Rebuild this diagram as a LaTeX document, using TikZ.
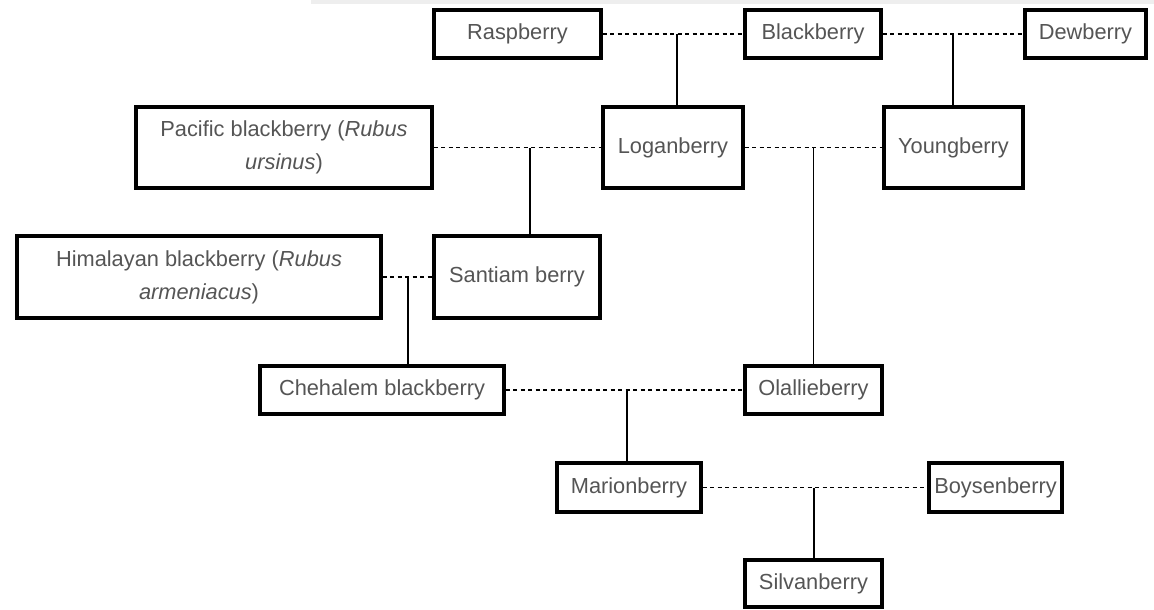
\documentclass[tikz,border=0pt]{standalone}
\usepackage{fontspec}
\setmainfont{Liberation Sans}
\definecolor{txt}{HTML}{555555}
\definecolor{barc}{HTML}{EEEEEE}
\begin{document}
\begin{tikzpicture}[x=1pt,y=-1pt,
  berry/.style={draw=black,line width=3.2pt,fill=white,inner sep=0pt,
    text=txt,align=center,font=\fontsize{21.8pt}{33pt}\selectfont},
  mate/.style={line width=1.7pt,dash pattern=on 4pt off 3.5pt},
  child/.style={line width=1.7pt}]
\useasboundingbox (0,0) rectangle (1154,610);
\fill[barc] (311,0) rectangle (1154,4.5);
% nodes
\node[berry,minimum width=167pt,minimum height=48pt] (rasp) at (517.5,34) {Raspberry};
\node[berry,minimum width=136pt,minimum height=48pt] (black) at (813,34) {Blackberry};
\node[berry,minimum width=121pt,minimum height=48pt] (dew) at (1085.5,34) {Dewberry};
\node[berry,minimum width=296pt,minimum height=81pt] (pac) at (284,147.5) {Pacific blackberry (\textit{Rubus}\\\textit{ursinus})};
\node[berry,minimum width=140pt,minimum height=81pt] (logan) at (673,147.5) {Loganberry};
\node[berry,minimum width=139pt,minimum height=81pt] (young) at (953.5,147.5) {Youngberry};
\node[berry,minimum width=364pt,minimum height=82pt] (hima) at (199,277) {Himalayan blackberry (\textit{Rubus}\\\textit{armeniacus})};
\node[berry,minimum width=166pt,minimum height=82pt] (sant) at (517,277) {Santiam berry};
\node[berry,minimum width=244pt,minimum height=48pt] (cheh) at (382,390) {Chehalem blackberry};
\node[berry,minimum width=137pt,minimum height=48pt] (olal) at (813.5,390) {Olallieberry};
\node[berry,minimum width=144pt,minimum height=49pt] (mari) at (629,487.5) {Marionberry};
\node[berry,minimum width=133pt,minimum height=49pt] (boys) at (995.5,487.5) {Boysenberry};
\node[berry,minimum width=137pt,minimum height=47pt] (silv) at (813.5,583.5) {Silvanberry};
% couples
\draw[mate] (rasp.east) -- (black.west) coordinate[pos=0.528] (j1);
\draw[mate] (black.east) -- (dew.west) coordinate[pos=0.5] (j2);
\draw[mate] (pac.east) -- (logan.west) coordinate[pos=0.573] (j3);
\draw[mate] (logan.east) -- (young.west) coordinate[pos=0.5] (j4);
\draw[mate] (hima.east) -- (sant.west) coordinate[pos=0.51] (j5);
\draw[mate] (cheh.east) -- (olal.west) coordinate[pos=0.51] (j6);
\draw[mate] (mari.east) -- (boys.west) coordinate[pos=0.496] (j7);
% offspring
\draw[child] (j1) -- (j1 |- logan.north);
\draw[child] (j2) -- (j2 |- young.north);
\draw[child] (j3) -- (j3 |- sant.north);
\draw[child] (j4) -- (j4 |- olal.north);
\draw[child] (j5) -- (j5 |- cheh.north);
\draw[child] (j6) -- (j6 |- mari.north);
\draw[child] (j7) -- (j7 |- silv.north);
\end{tikzpicture}
\end{document}
